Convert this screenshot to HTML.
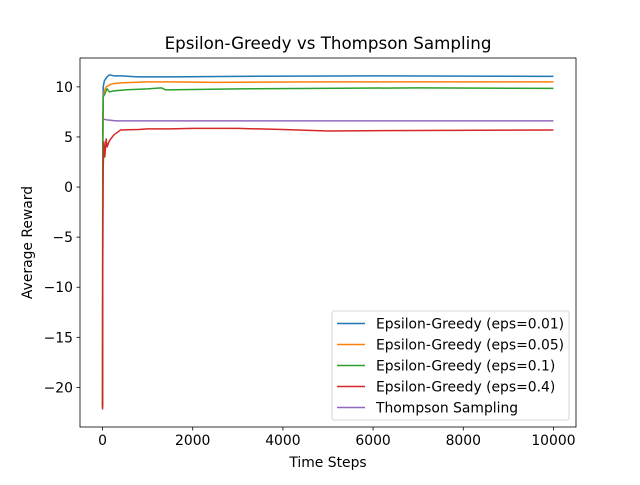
<!DOCTYPE html>
<html><head><meta charset="utf-8"><style>
body{margin:0;background:#fff}
text{font-family:"DejaVu Sans","Liberation Sans",sans-serif;fill:#000}
</style></head><body>
<svg id="chart" width="640" height="480" xmlns="http://www.w3.org/2000/svg"></svg>
<script>
const seriesNames=["Epsilon-Greedy (eps=0.01)","Epsilon-Greedy (eps=0.05)","Epsilon-Greedy (eps=0.1)","Epsilon-Greedy (eps=0.4)","Thompson Sampling"];
const seriesColors=["#1f77b4","#ff7f0e","#2ca02c","#d62728","#9467bd"];
const blueT=[0,5,15,40,100,150,250,400,800,1500,3000,6000,10000];
const blueV=[-22,5,10.0,10.6,11.0,11.2,11.1,11.1,11.0,11.0,11.05,11.1,11.05];
const orangeT=[0,5,15,40,80,200,400,1000,1500,2500,5000,10000];
const orangeV=[-22,3,9.0,9.6,10.0,10.3,10.4,10.5,10.5,10.45,10.5,10.5];
const greenT=[0,5,15,50,100,150,250,500,1000,1300,1400,3000,7000,10000];
const greenV=[-22,4,9.0,9.3,9.8,9.5,9.6,9.7,9.8,9.9,9.7,9.8,9.9,9.85];
const redT=[0,5,15,30,50,80,100,150,250,400,800,1000,1500,2000,3000,4000,5000,7000,10000];
const redV=[-22.2,-8,2,4.5,3,4.8,4.0,4.6,5.2,5.7,5.75,5.8,5.8,5.85,5.85,5.75,5.6,5.65,5.7];
const purpleT=[0,100,300,10000];
const purpleV=[6.8,6.7,6.6,6.6];
const xTicks=[0,2000,4000,6000,8000,10000];
const yTicks=[-20,-15,-10,-5,0,5,10];
const yTickLabels=["\u221220","\u221215","\u221210","\u22125","0","5","10"];

const L=80,R=576,T=58,B=427;
const xMin=-500,xMax=10500,yMin=-23.95,yMax=12.88;
const X=v=>L+(v-xMin)/(xMax-xMin)*(R-L);
const Y=v=>B-(v-yMin)/(yMax-yMin)*(B-T);
const svg=document.getElementById('chart');
const NS="http://www.w3.org/2000/svg";
function mk(tag,attrs,txt){const e=document.createElementNS(NS,tag);for(const k in attrs)e.setAttribute(k,attrs[k]);if(txt!==undefined)e.textContent=txt;svg.appendChild(e);return e;}

const allT=[blueT,orangeT,greenT,redT,purpleT];
const allV=[blueV,orangeV,greenV,redV,purpleV];
const order=[4,0,1,2,3];
order.forEach(i=>{
  const d=allT[i].map((t,j)=>(j?'L':'M')+X(t).toFixed(2)+','+Y(allV[i][j]).toFixed(2)).join('');
  const p=mk('path',{d:d,fill:'none',stroke:seriesColors[i],'stroke-width':1.5,'stroke-linejoin':'round'});
  
  
});

const frame=mk('rect',{x:L,y:T,width:R-L,height:B-T,fill:'none',stroke:'#000','stroke-width':0.8});



xTicks.forEach(v=>{
  const l=mk('line',{x1:X(v),x2:X(v),y1:B,y2:B+3.5,stroke:'#000','stroke-width':0.8});
  
  
  const t=mk('text',{x:X(v),y:B+18,'font-size':13.9,'text-anchor':'middle'},String(v));
  
  
});
yTicks.forEach((v,i)=>{
  const l=mk('line',{x1:L-3.5,x2:L,y1:Y(v),y2:Y(v),stroke:'#000','stroke-width':0.8});
  
  
  const t=mk('text',{x:L-7,y:Y(v)+5,'font-size':13.9,'text-anchor':'end'},yTickLabels[i]);
  
  
});

const title=mk('text',{x:(L+R)/2,y:49,'font-size':16.7,'text-anchor':'middle'},'Epsilon-Greedy vs Thompson Sampling');


const xt=mk('text',{x:(L+R)/2,y:467,'font-size':13.9,'text-anchor':'middle'},'Time Steps');


const yt=mk('text',{x:32,y:(T+B)/2,'font-size':13.9,'text-anchor':'middle',transform:'rotate(-90 32 '+((T+B)/2)+')'},'Average Reward');



const lg=mk('rect',{x:332,y:311,width:237,height:109,rx:2,fill:'#fff','fill-opacity':0.8,stroke:'#ccc','stroke-width':0.8});


seriesNames.forEach((n,i)=>{
  const y=323.5+i*21;
  const l=mk('line',{x1:337,x2:365,y1:y,y2:y,stroke:seriesColors[i],'stroke-width':1.5});
  
  
  const t=mk('text',{x:376,y:y+5,'font-size':13.9},n);
  
  
});
</script>
</body></html>
